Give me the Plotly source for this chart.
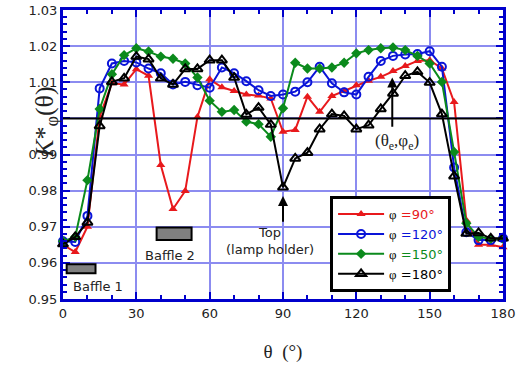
import plotly.graph_objects as go

theta = list(range(0, 181, 5))

k_phi90 = [0.9650, 0.9630, 0.9700, 1.0005, 1.0097, 1.0094, 1.0136, 1.0118, 0.9871, 0.9749,
           0.9799, 1.0004, 1.0108, 1.0086, 1.0076, 1.0066, 1.0063, 1.0055, 0.9963, 0.9968,
           1.0060, 1.0018, 1.0062, 1.0076, 1.0092, 1.0104, 1.0115, 1.0131, 1.0145, 1.0159,
           1.0161, 1.0138, 1.0045, 0.9718, 0.9650, 0.9650, 0.9643]
k_phi120 = [0.9660, 0.9658, 0.9730, 1.0083, 1.0152, 1.0159, 1.0155, 1.0138, 1.0125, 1.0094,
            1.0101, 1.0092, 1.0085, 1.0141, 1.0125, 1.0103, 1.0078, 1.0062, 1.0066, 1.0074,
            1.0100, 1.0143, 1.0097, 1.0072, 1.0066, 1.0115, 1.0159, 1.0173, 1.0177, 1.0178,
            1.0186, 1.0143, 0.9864, 0.9685, 0.9663, 0.9663, 0.9668]
k_phi150 = [0.9660, 0.9672, 0.9829, 1.0026, 1.0122, 1.0175, 1.0194, 1.0185, 1.0171, 1.0165,
            1.0152, 1.0113, 1.0049, 1.0018, 1.0023, 0.9991, 0.9984, 0.9949, 1.0028, 1.0154,
            1.0138, 1.0138, 1.0141, 1.0154, 1.0180, 1.0189, 1.0194, 1.0196, 1.0189, 1.0173,
            1.0152, 1.0101, 0.9907, 0.9710, 0.9672, 0.9667, 0.9667]
k_phi180 = [0.9652, 0.9672, 0.9712, 0.9979, 1.0101, 1.0111, 1.0171, 1.0164, 1.0111, 1.0094,
            1.0137, 1.0137, 1.0161, 1.0161, 1.0113, 1.0011, 1.0030, 0.9983, 0.9809, 0.9889,
            0.9905, 0.9970, 1.0012, 1.0007, 0.9970, 0.9981, 1.0026, 1.0069, 1.0118, 1.0129,
            1.0099, 1.0012, 0.9840, 0.9681, 0.9683, 0.9668, 0.9668]

series_names = ["90°", "120°", "150°", "180°"]
series_values = [k_phi90, k_phi120, k_phi150, k_phi180]
series_colors = ["#e8191c", "#0a14d8", "#0b8a1c", "#000000"]
series_symbols = ["triangle-up", "circle-open", "diamond", "triangle-up-open"]
series_sizes = [8, 8, 8, 9]

x_ticks = [0, 30, 60, 90, 120, 150, 180]
y_ticks = [0.95, 0.96, 0.97, 0.98, 0.99, 1.00, 1.01, 1.02, 1.03]
y_ticklabels = ["0.95", "0.96", "0.97", "0.98", "0.99", "", "1.01", "1.02", "1.03"]

AXIS_BLUE = "#0000cc"
GRID = "#8c8cf0"
SANS = "DejaVu Sans"
SERIF = "Liberation Serif"

fig = go.Figure()
for name, vals, col, sym, sz in zip(series_names, series_values, series_colors,
                                     series_symbols, series_sizes):
    fig.add_trace(go.Scatter(
        x=theta, y=vals, mode="lines+markers",
        name=f"<span style='font-family:{SERIF};color:black'>φ</span> <span style='color:{col}'>={name}</span>",
        line=dict(color=col, width=2),
        marker=dict(symbol=sym, size=sz, color=col,
                    line=dict(color=col, width=2 if "open" in sym else 0)),
        cliponaxis=False,
    ))

fig.add_hline(y=1.0, line=dict(color="black", width=2))

# baffle boxes
fig.add_shape(type="rect", x0=1.5, x1=13.3, y0=0.9571, y1=0.9596,
              fillcolor="#808080", line=dict(color="black", width=2))
fig.add_shape(type="rect", x0=38.3, x1=52.6, y0=0.9663, y1=0.9698,
              fillcolor="#808080", line=dict(color="black", width=2))

fig.add_annotation(x=3.2, y=0.9535, text="Baffle 1", showarrow=False, xanchor="left",
                   font=dict(family=SANS, size=13, color="#222"))
fig.add_annotation(x=43.8, y=0.9621, text="Baffle 2", showarrow=False,
                   font=dict(family=SANS, size=13, color="#222"))

# top lamp holder arrow
fig.add_annotation(x=90, y=0.9785, ax=90, ay=0.9710, axref="x", ayref="y",
                   xref="x", yref="y", text="", showarrow=True,
                   arrowhead=2, arrowsize=1, arrowwidth=2, arrowcolor="black")
fig.add_annotation(x=84.5, y=0.9661, text="Top<br>(lamp holder)", showarrow=False,
                   font=dict(family=SANS, size=13, color="#222"))

# (θe, φe) arrow
fig.add_annotation(x=134.7, y=1.0113, ax=134.7, ay=0.9973, axref="x", ayref="y",
                   xref="x", yref="y", text="", showarrow=True,
                   arrowhead=2, arrowsize=1, arrowwidth=2, arrowcolor="black")
fig.add_annotation(x=136.5, y=0.9935, text="(θ<sub>e</sub>,φ<sub>e</sub>)", showarrow=False,
                   font=dict(family=SERIF, size=17, color="#222"))

# y-axis title
fig.add_annotation(xref="paper", yref="paper", x=-0.08, y=0.612,
                   text="<i>K</i>*<sub>φ</sub>(θ)", textangle=-90, showarrow=False,
                   font=dict(family=SERIF, size=26, color="#222"))

fig.update_layout(
    width=519, height=366,
    margin=dict(l=63, r=16, t=10, b=67, autoexpand=False),
    paper_bgcolor="white", plot_bgcolor="white",
    font=dict(family=SANS, size=13, color="#222"),
    showlegend=True,
    legend=dict(x=0.607, y=0.356, xanchor="left", yanchor="top",
                bgcolor="white", bordercolor="black", borderwidth=3,
                font=dict(family=SANS, size=13, color="#222"),
                itemwidth=46, tracegroupgap=0),
    xaxis=dict(range=[0, 180], tickvals=x_ticks, ticktext=[str(v) for v in x_ticks],
               automargin=False,
               showgrid=True, gridcolor=GRID, gridwidth=2,
               showline=True, linecolor=AXIS_BLUE, linewidth=3, mirror="allticks",
               ticks="inside", ticklen=7, tickwidth=2, tickcolor=AXIS_BLUE,
               minor=dict(dtick=10, ticks="inside", ticklen=4, tickwidth=2,
                          tickcolor=AXIS_BLUE, showgrid=False),
               zeroline=False,
               title=dict(text="θ  (°)", font=dict(family=SERIF, size=19, color="#222"),
                          standoff=26),
               tickfont=dict(family=SANS, size=13, color="#222")),
    yaxis=dict(range=[0.95, 1.03], tickvals=y_ticks, ticktext=y_ticklabels,
               automargin=False,
               showgrid=True, gridcolor=GRID, gridwidth=2,
               showline=True, linecolor=AXIS_BLUE, linewidth=3, mirror="allticks",
               ticks="inside", ticklen=7, tickwidth=2, tickcolor=AXIS_BLUE,
               minor=dict(dtick=0.002, ticks="inside", ticklen=4, tickwidth=2,
                          tickcolor=AXIS_BLUE, showgrid=False),
               zeroline=False,
               tickfont=dict(family=SANS, size=13, color="#222")),
)

fig.write_html("out.html", config={"displayModeBar": False},
               post_script="document.body.style.margin='0';")
